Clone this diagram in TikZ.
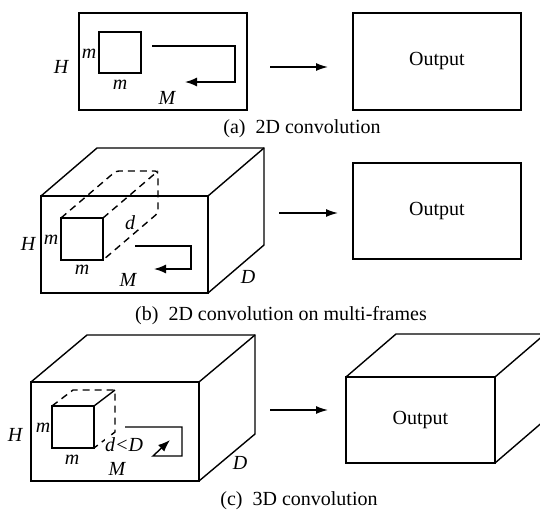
\documentclass[tikz,border=0pt]{standalone}
\usepackage{fontspec}
\setmainfont{Liberation Serif}
\usetikzlibrary{arrows.meta,calc}

\begin{document}
\begin{tikzpicture}[
  x=1pt,y=-1pt,
  font=\fontsize{20}{24}\selectfont,
  line width=1.4pt,
  frame/.style={draw,rectangle,inner sep=0pt,outer sep=0pt},
  lab/.style={font=\fontsize{20}{24}\selectfont\itshape,inner sep=1pt},
  flow/.style={-{Latex[length=12pt,width=8pt]}},
  scan/.style={-{Latex[length=12pt,width=9pt]}},
  hidden/.style={dash pattern=on 7pt off 5pt},
  caption/.style={font=\fontsize{20}{24}\selectfont}
]
\clip (0,0) rectangle (540,512);

% (a) 2D convolution
\node[frame,minimum width=168pt,minimum height=97pt] (inA) at (163,61.5) {};
\node[frame,minimum width=42pt,minimum height=41pt] (kA) at (120,52.5) {};
\node[lab] (HA) at (61,67) {H};
\node[lab] (mA1) at (89,54) {m};
\node[lab] (mA2) at (120,85) {m};
\node[lab] (MA) at (167,98) {M};
\draw[scan] (152,46) -- (235,46) -- (235,82) -- (185,82);
\node[frame,minimum width=168pt,minimum height=97pt] (outA) at (437,61.5) {Output};
\draw[flow] ([xshift=23pt,yshift=-5.5pt]inA.east) -- ([xshift=-25pt,yshift=-5.5pt]outA.west);
\node[caption] (capA) at (302,129) {(a)\ \ 2D convolution};

% (b) 2D convolution on multi-frames
\node[frame,minimum width=167pt,minimum height=97pt] (inB) at (124.5,244.5) {};
\draw (inB.north west) -- ++(56,-48) -- ++(167,0) -- ++(0,97) -- (inB.south east);
\draw (inB.north east) -- ++(56,-48);
\node[frame,minimum width=42pt,minimum height=42pt] (kB) at (82,239) {};
\draw[hidden,rounded corners=3pt] (kB.north west) -- ++(55,-47) -- ++(42,0) -- ++(0,42) -- (kB.south east);
\draw[hidden] (kB.north east) -- ++(55,-47);
\node[lab] (HB) at (28,244) {H};
\node[lab] (mB1) at (51,240) {m};
\node[lab] (mB2) at (82,270) {m};
\node[lab] (dB) at (130,223) {d};
\node[lab] (MB) at (128,280) {M};
\node[lab] (DB) at (248,277) {D};
\draw[scan] (135,246) -- (191,246) -- (191,269) -- (154,269);
\node[frame,minimum width=168pt,minimum height=96pt] (outB) at (437,211) {Output};
\draw[flow] ([xshift=71pt,yshift=31.5pt]inB.east) -- ([xshift=-15pt,yshift=-2pt]outB.west);
\node[caption] (capB) at (281,316) {(b)\ \ 2D convolution on multi-frames};

% (c) 3D convolution
\node[frame,minimum width=168pt,minimum height=99pt] (inC) at (115,431.5) {};
\draw (inC.north west) -- ++(56,-47) -- ++(168,0) -- ++(0,99) -- (inC.south east);
\draw (inC.north east) -- ++(56,-47);
\node[frame,minimum width=42pt,minimum height=42pt] (kC) at (73,427) {};
\draw[hidden] (kC.north west) -- ++(21,-16) -- ++(42,0) -- ++(0,42) -- (kC.south east);
\draw (kC.north east) -- ++(21,-16);
\node[lab] (HC) at (15,435) {H};
\node[lab] (mC1) at (43,428) {m};
\node[lab] (mC2) at (72,460) {m};
\node[lab,fill=white,inner sep=0.5pt] (dC) at (124,445) {d<D};
\node[lab] (MC) at (117,469) {M};
\node[lab] (DC) at (240,463) {D};
\draw[scan] (125,427) -- (182,427) -- (182,456) -- (153,456) -- (170,440);
\node[frame,minimum width=149pt,minimum height=86pt] (outC) at (420.5,420) {Output};
\draw (outC.north west) -- ++(50,-43) -- ++(149,0) -- ++(0,86) -- (outC.south east);
\draw (outC.north east) -- ++(50,-43);
\draw[flow] ([xshift=71pt,yshift=21.5pt]inC.east) -- ([xshift=-18pt,yshift=10pt]outC.west);
\node[caption] (capC) at (299,501) {(c)\ \ 3D convolution};

\end{tikzpicture}
\end{document}
